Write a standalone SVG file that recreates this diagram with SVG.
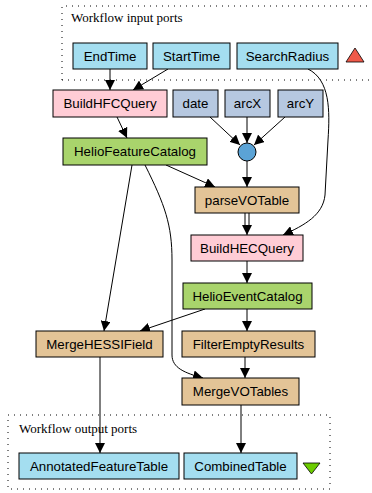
<svg xmlns="http://www.w3.org/2000/svg" width="372" height="493" viewBox="0 0 372 493">
<style>
.n rect{stroke:#000;stroke-width:1}
.n text{font-family:"Liberation Sans",Arial,sans-serif;font-size:13.3px;fill:#000;text-anchor:middle}
.port rect{fill:#a4def0}
.pink rect{fill:#ffccd5}
.const rect{fill:#b6c8e0}
.green rect{fill:#a9d46c}
.tan rect{fill:#e3c497}
.cluster{fill:none;stroke:#000;stroke-width:1;stroke-dasharray:1 5}
.clabel{font-family:"Liberation Serif","Times New Roman",serif;font-size:13px;fill:#000}
#edges path{fill:none;stroke:#000;stroke-width:1;marker-end:url(#ah)}
#edges path.plain{marker-end:none}
</style>
<defs>
<marker id="ah" viewBox="0 0 10 10" refX="10" refY="5" markerWidth="10" markerHeight="10" markerUnits="userSpaceOnUse" orient="auto">
<path d="M0,0 L10,5 L0,10 z" fill="#000"/>
</marker>
</defs>
<rect width="372" height="493" fill="#fff"/>
<g id="inputs">
<path class="cluster" d="M62,80 L62,6 L372,6 M62,80 L372,80"/>
<text class="clabel" x="71" y="22">Workflow input ports</text>
<polygon points="355,48 364,62 346,62" fill="#f05a4a" stroke="#000" stroke-width="0.8"/>
</g>
<g id="outputs">
<rect class="cluster" x="8" y="415" width="322" height="74"/>
<text class="clabel" x="19" y="433">Workflow output ports</text>
<polygon points="303,463 320,463 311.5,474" fill="#6ccc00" stroke="#000" stroke-width="0.8"/>
</g>
<g id="edges">
<path d="M110,69 L110,90"/>
<path d="M168,69 L133,90"/>
<path d="M308,69 C330,80 330,110 328,140 L325,195 C323,215 305,225 283,235"/>
<path d="M117,117 L127,138"/>
<path d="M210,117 L240,145"/>
<path d="M247,117 L247,143"/>
<path d="M285,117 L254,145"/>
<path d="M166,165 L215,187"/>
<path d="M247,161 L247,187"/>
<path class="plain" d="M245,213 L245,226"/>
<path class="plain" d="M249,213 L249,226"/>
<path d="M247,226 L247,235"/>
<path d="M247,261 L247,283"/>
<path d="M205,309 L140,331"/>
<path d="M247,309 L247,331"/>
<path d="M132,165 L104,331"/>
<path d="M145,165 C165,205 172,225 172,260 L172,355 C172,368 185,373 203,378"/>
<path d="M245,357 L245,378"/>
<path d="M100,357 L100,453"/>
<path d="M241,405 L241,453"/>
</g>
<g id="EndTime" class="n port"><rect x="73" y="43" width="74" height="26"/><text x="110" y="60.5">EndTime</text></g>
<g id="StartTime" class="n port"><rect x="153" y="43" width="77" height="26"/><text x="191.5" y="60.5">StartTime</text></g>
<g id="SearchRadius" class="n port"><rect x="237" y="43" width="101" height="26"/><text x="287.5" y="60.5">SearchRadius</text></g>
<g id="BuildHFCQuery" class="n pink"><rect x="53" y="90" width="114" height="27"/><text x="110" y="108">BuildHFCQuery</text></g>
<g id="date" class="n const"><rect x="173" y="90" width="45" height="27"/><text x="195.5" y="108">date</text></g>
<g id="arcX" class="n const"><rect x="225" y="90" width="45" height="27"/><text x="247.5" y="108">arcX</text></g>
<g id="arcY" class="n const"><rect x="278" y="90" width="45" height="27"/><text x="300.5" y="108">arcY</text></g>
<g id="merge" class="n"><circle cx="247" cy="152" r="9" fill="#5ba3d6" stroke="#000" stroke-width="1"/></g>
<g id="HelioFeatureCatalog" class="n green"><rect x="63" y="138" width="144" height="27"/><text x="135" y="156">HelioFeatureCatalog</text></g>
<g id="parseVOTable" class="n tan"><rect x="195" y="187" width="104" height="26"/><text x="247" y="204.5">parseVOTable</text></g>
<g id="BuildHECQuery" class="n pink"><rect x="191" y="235" width="112" height="26"/><text x="247" y="252.5">BuildHECQuery</text></g>
<g id="HelioEventCatalog" class="n green"><rect x="183" y="283" width="129" height="26"/><text x="247.5" y="300.5">HelioEventCatalog</text></g>
<g id="MergeHESSIField" class="n tan"><rect x="36" y="331" width="127" height="26"/><text x="99.5" y="348.5">MergeHESSIField</text></g>
<g id="FilterEmptyResults" class="n tan"><rect x="182" y="331" width="133" height="26"/><text x="248.5" y="348.5">FilterEmptyResults</text></g>
<g id="MergeVOTables" class="n tan"><rect x="182" y="378" width="117" height="27"/><text x="240.5" y="396">MergeVOTables</text></g>
<g id="AnnotatedFeatureTable" class="n port"><rect x="19" y="453" width="160" height="26"/><text x="99" y="470.5">AnnotatedFeatureTable</text></g>
<g id="CombinedTable" class="n port"><rect x="184" y="453" width="113" height="26"/><text x="240.5" y="470.5">CombinedTable</text></g>
</svg>
